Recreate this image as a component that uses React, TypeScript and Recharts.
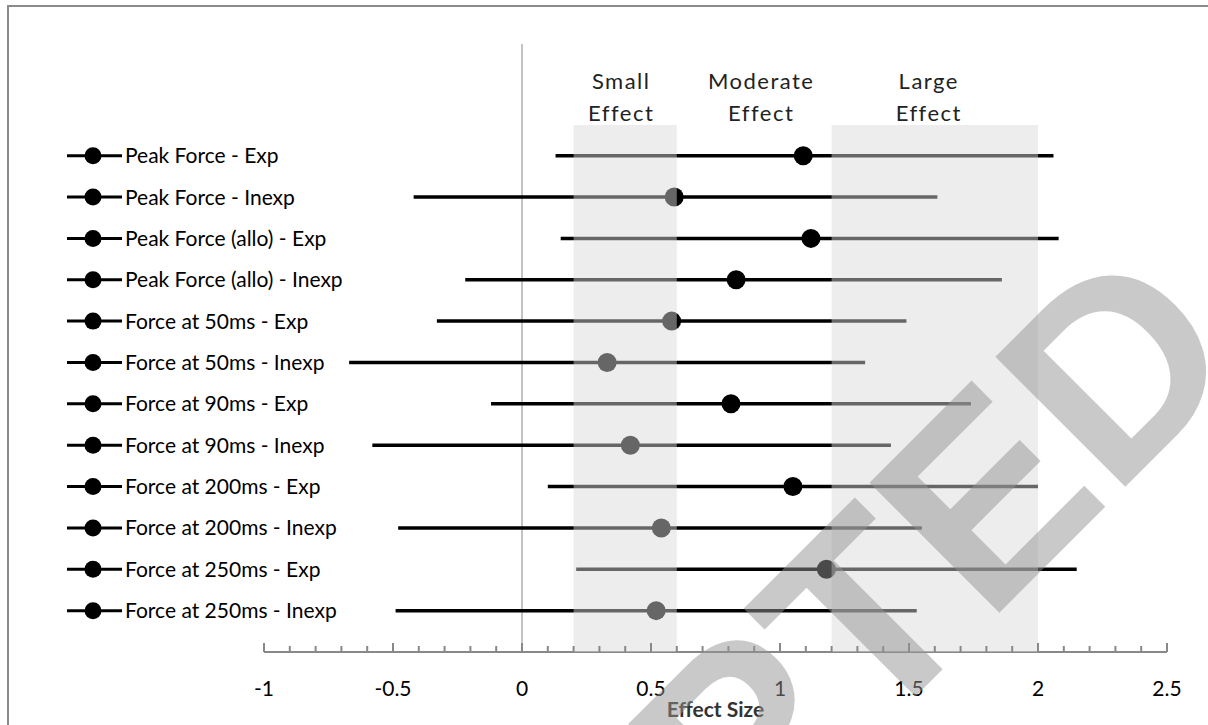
import {
  ComposedChart, Scatter, ErrorBar, XAxis, YAxis, ReferenceArea, ReferenceLine,
} from 'recharts';

const LABELS = [
  'Peak Force - Exp',
  'Peak Force - Inexp',
  'Peak Force (allo) - Exp',
  'Peak Force (allo) - Inexp',
  'Force at 50ms - Exp',
  'Force at 50ms - Inexp',
  'Force at 90ms - Exp',
  'Force at 90ms - Inexp',
  'Force at 200ms - Exp',
  'Force at 200ms - Inexp',
  'Force at 250ms - Exp',
  'Force at 250ms - Inexp',
];
const MEANS = [1.09, 0.59, 1.12, 0.83, 0.58, 0.33, 0.81, 0.42, 1.05, 0.54, 1.18, 0.52];
const LOWER = [0.13, -0.42, 0.15, -0.22, -0.33, -0.67, -0.12, -0.58, 0.1, -0.48, 0.21, -0.49];
const UPPER = [2.06, 1.61, 2.08, 1.86, 1.49, 1.33, 1.74, 1.43, 2.0, 1.55, 2.15, 1.53];

const X_LABELS = [-1, -0.5, 0, 0.5, 1, 1.5, 2, 2.5];
const X_TICKS = Array.from({ length: 36 }, (_, i) => Math.round((-1 + i * 0.1) * 10) / 10);

const BANDS = [
  { x1: 0.2, x2: 0.6, name: 'Small', fill: true, dx: -4 },
  { x1: 0.6, x2: 1.2, name: 'Moderate', fill: false, dx: 7 },
  { x1: 1.2, x2: 2.0, name: 'Large', fill: true, dx: -6 },
];

const FONT = 'Lato, "Open Sans", sans-serif';

// row 1 sits at the top, so the y value counts down
const data = LABELS.map((name, i) => ({
  name,
  row: LABELS.length - i,
  mean: MEANS[i],
  err: [MEANS[i] - LOWER[i], UPPER[i] - MEANS[i]],
}));

function XTick(props: any) {
  const { x, y, payload } = props;
  const v = payload.value;
  const major = X_LABELS.includes(v);
  return (
    <g>
      <line x1={x} x2={x} y1={y - (major ? 9 : 6)} y2={y} stroke="#888" strokeWidth={2} />
      {major && (
        <text x={x} y={y + 44} textAnchor="middle" fontSize={21} fill="#000" fontFamily={FONT}>
          {v}
        </text>
      )}
    </g>
  );
}

function YTick(props: any) {
  const { y, payload } = props;
  const label = LABELS[LABELS.length - payload.value];
  return (
    <g>
      <line x1={67} x2={122} y1={y} y2={y} stroke="#000" strokeWidth={3} />
      <circle cx={93} cy={y} r={8.5} fill="#000" />
      <text x={125} y={y} dy="0.36em" fontSize={21} fill="#000" fontFamily={FONT}>
        {label}
      </text>
    </g>
  );
}

function bandLabel(name: string, dx: number) {
  return (props: any) => {
    const { viewBox } = props;
    const cx = viewBox.x + viewBox.width / 2 + dx;
    const top = viewBox.y;
    return (
      <g fontFamily={FONT} fontSize={22} letterSpacing={1.5} fill="#222" textAnchor="middle">
        <text x={cx} y={top - 36}>{name}</text>
        <text x={cx} y={top - 4}>Effect</text>
      </g>
    );
  };
}

export default function App() {
  return (
    <div style={{ position: 'absolute', left: 0, top: 0, width: 1208, height: 725, background: '#fff', overflow: 'hidden' }}>
      <div style={{ position: 'absolute', left: 7, top: 5, width: 1220, height: 740, borderTop: '2px solid #8a8a8a', borderLeft: '2px solid #8a8a8a' }} />
      <ComposedChart
        width={1208}
        height={725}
        data={data}
        margin={{ top: 44, right: 41, bottom: 0, left: 0 }}
        style={{ position: 'absolute', left: 0, top: 0 }}
      >
        <XAxis
          type="number"
          dataKey="mean"
          domain={[-1, 2.5]}
          ticks={X_TICKS}
          interval={0}
          tickSize={0}
          tickMargin={0}
          tickLine={false}
          height={73}
          axisLine={{ stroke: '#888', strokeWidth: 2 }}
          tick={<XTick />}
          label={{ value: 'Effect Size', position: 'insideBottom', offset: 8, fontSize: 21, fontWeight: 700, fill: '#333', fontFamily: FONT }}
        />
        <YAxis
          type="number"
          dataKey="row"
          domain={[0, 14.7]}
          ticks={data.map(d => d.row)}
          interval={0}
          width={264}
          axisLine={false}
          tickLine={false}
          tick={<YTick />}
        />
        <ReferenceLine x={0} stroke="#888" strokeWidth={1} />
        <Scatter
          dataKey="mean"
          isAnimationActive={false}
          shape={(p: any) => <circle cx={p.cx} cy={p.cy} r={9.5} fill="#000" />}
        >
          <ErrorBar dataKey="err" direction="x" width={0} stroke="#000" strokeWidth={3.5} isAnimationActive={false} />
        </Scatter>
        {BANDS.map(b => (
          <ReferenceArea
            key={b.name}
            x1={b.x1}
            x2={b.x2}
            y1={0}
            y2={12.74}
            fill="#d9d9d9"
            fillOpacity={b.fill ? 0.47 : 0}
            stroke="none"
            zIndex={700}
            label={bandLabel(b.name, b.dx)}
          />
        ))}
      </ComposedChart>
      <svg width={1208} height={725} style={{ position: 'absolute', left: 0, top: 0, pointerEvents: 'none' }}>
        <text
          x={1249}
          y={363}
          transform="rotate(-45 1249 363)"
          textAnchor="end"
          fontSize={267}
          fontWeight={700}
          fontFamily='"Liberation Sans", Arial, sans-serif'
          fill="#949494"
          fillOpacity={0.5}
        >
          ACCEPTED
        </text>
      </svg>
    </div>
  );
}
